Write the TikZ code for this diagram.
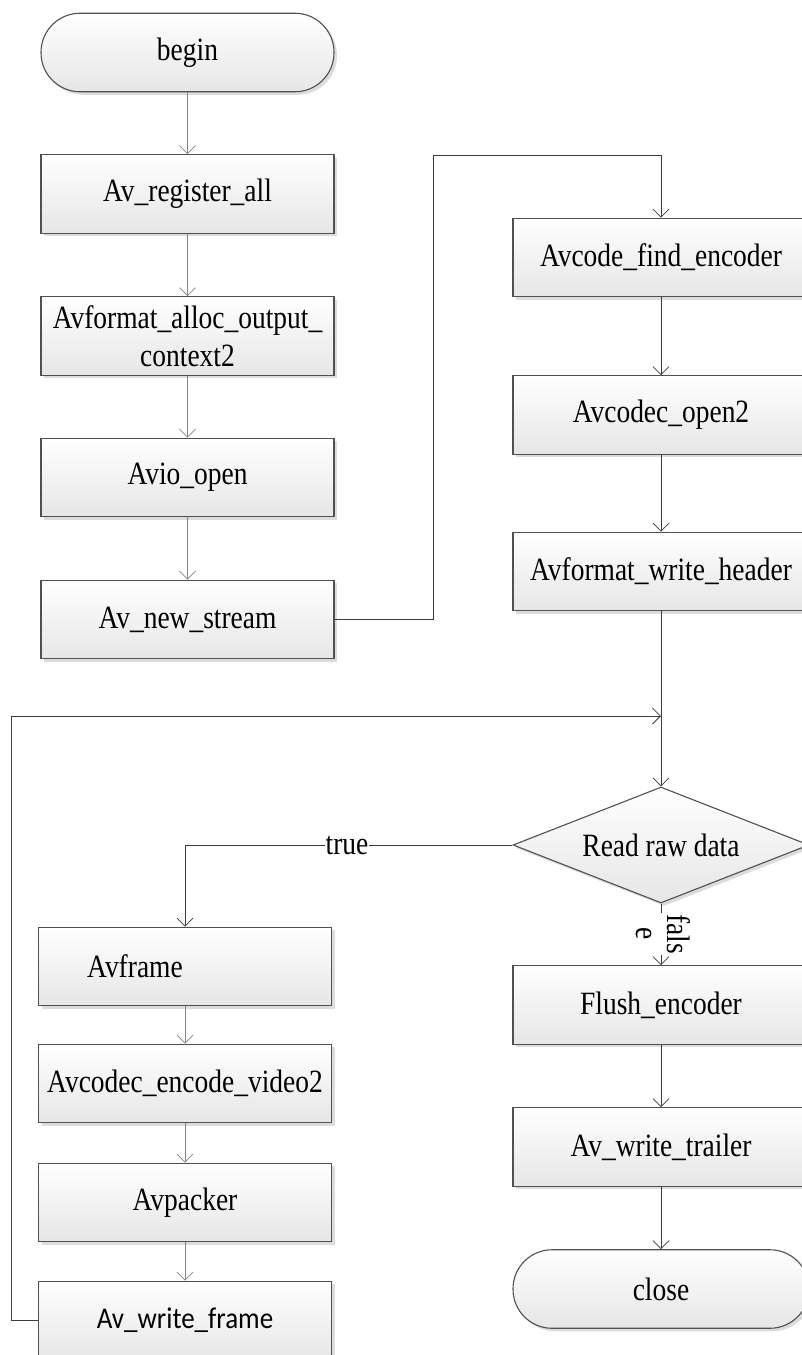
\documentclass[tikz,border=0pt]{standalone}
\usepackage{fontspec}
\usetikzlibrary{arrows.meta,shapes.geometric,shadows}
\newfontfamily\serifdiag{Liberation Serif}[FakeStretch=0.845]
\newfontfamily\sansdiag{Carlito}[FakeStretch=0.9]
\definecolor{edgegray}{HTML}{505050}
\definecolor{darkline}{HTML}{3C3C3C}
\definecolor{lightline}{HTML}{858585}
\definecolor{shadegray}{HTML}{E6E6E6}
\definecolor{shadowgray}{HTML}{DCDCDC}

\tikzset{
  box/.style={draw=edgegray, line width=1.1pt, top color=white, bottom color=shadegray,
    minimum width=293pt, minimum height=78.5pt, inner sep=0pt, align=center,
    drop shadow={shadow xshift=3pt, shadow yshift=-3pt, fill=shadowgray, opacity=1}},
  widebox/.style={box, minimum width=296pt},
  term/.style={box, rounded corners=39pt},
  decision/.style={diamond, draw=edgegray, line width=1.1pt, top color=white, bottom color=shadegray,
    minimum width=296pt, minimum height=116pt, inner sep=0pt,
    drop shadow={shadow xshift=3pt, shadow yshift=-3pt, fill=shadowgray, opacity=1}},
  conn/.style={draw=darkline, line width=1pt, -{Straight Barb[length=8pt,width=16pt,line width=0.8pt]}},
  lconn/.style={conn, draw=lightline},
  edgelabel/.style={fill=white, inner sep=1pt},
}

\begin{document}
\begin{tikzpicture}[x=1pt, y=-1pt, font=\serifdiag\fontsize{32.5}{38}\selectfont]
  \useasboundingbox (0,0) rectangle (802,1355);

  % left column: setup steps
  \node[term] (begin) at (187.5,52.5) {begin};
  \node[box]  (reg)   at (187.5,194)  {Av\_register\_all};
  \node[box]  (alloc) at (187.5,336)  {Avformat\_alloc\_output\_\\context2};
  \node[box]  (avio)  at (187.5,477.5) {Avio\_open};
  \node[box]  (newst) at (187.5,619.5) {Av\_new\_stream};

  % right column: encoder setup
  \node[widebox] (find) at (661,257.5) {Avcode\_find\_encoder};
  \node[widebox] (open) at (661,415)   {Avcodec\_open2};
  \node[widebox] (hdr)  at (661,571.5) {Avformat\_write\_header};

  % read loop
  \node[decision] (dia) at (661,845) {};
  \node at (dia) {Read raw data};
  \coordinate (join) at (661,716);

  % per-frame branch
  \node[box] (frame) at (185,966.5)  {Avframe\hspace*{100pt}};
  \node[box] (enc)   at (185,1083.5) {Avcodec\_encode\_video2};
  \node[box] (pack)  at (185,1202.5) {Avpacker};
  \node[box, font=\sansdiag\fontsize{30}{36}\selectfont] (wfr) at (185,1320.5) {Av\_write\_frame};

  % finishing branch
  \node[widebox] (flush) at (661,1005) {Flush\_encoder};
  \node[widebox] (trail) at (661,1147) {Av\_write\_trailer};
  \node[term, minimum width=296pt] (close) at (661,1289) {close};

  % connectors
  \draw[lconn] (begin) -- (reg);
  \draw[lconn] (reg) -- (alloc);
  \draw[lconn] (alloc) -- (avio);
  \draw[lconn] (avio) -- (newst);
  \draw[conn] (newst.east) -- (433,619.5) -- (433,155) -- (661,155) -- (find.north);
  \draw[conn] (find) -- (open);
  \draw[conn] (open) -- (hdr);
  \draw[conn] (hdr) -- (dia.north);
  \draw[conn] (wfr.west) -- (11,1320.5) -- (11,716) -- (join);
  \draw[conn] (dia.west) -| (frame.north);
  \node[edgelabel] at (347,845) {true};
  \draw[lconn] (frame) -- (enc);
  \draw[lconn] (enc) -- (pack);
  \draw[lconn] (pack) -- (wfr);
  \draw[conn] (dia.south) -- (flush.north);
  \node[edgelabel, rotate=-90, align=center, font=\serifdiag\fontsize{32.5}{31}\selectfont] at (663,934) {fals\\e};
  \draw[conn] (flush) -- (trail);
  \draw[conn] (trail) -- (close);
\end{tikzpicture}
\end{document}
